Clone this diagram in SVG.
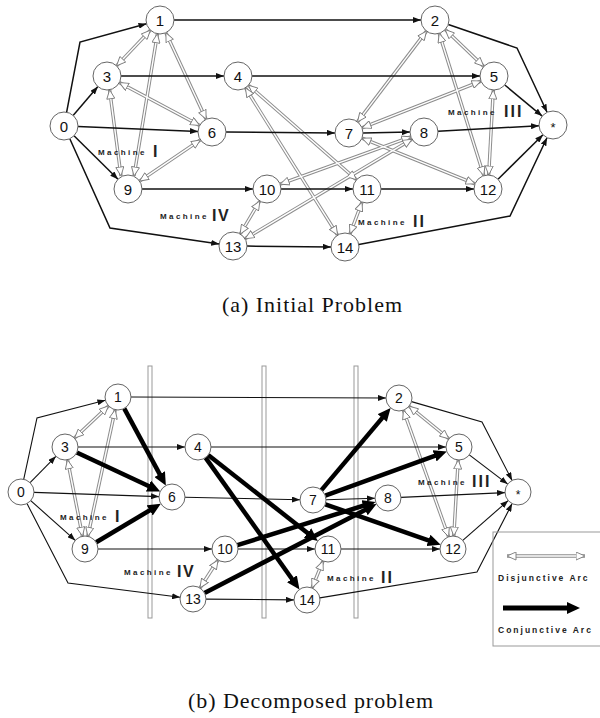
<svg xmlns="http://www.w3.org/2000/svg" xmlns:xlink="http://www.w3.org/1999/xlink" width="600" height="718" viewBox="0 0 600 718">
<style>
.nd circle{fill:#fff;stroke:#666;stroke-width:1}
.nt{font-family:"Liberation Sans",Arial,sans-serif;font-size:15px;text-anchor:middle;fill:#111}
.nb{font-size:14px}
.ca{fill:none;stroke:#111;stroke-width:1.5;marker-end:url(#ah)}
.cb{fill:none;stroke:#111;stroke-width:1.1;marker-end:url(#ah)}
.ck{fill:none;stroke:#000;stroke-width:4.5;marker-end:url(#ahb)}
.djo{fill:none;stroke:#8c8c8c;stroke-width:3.4}
.dji{fill:none;stroke:#fff;stroke-width:1.4;marker-start:url(#dh);marker-end:url(#dh)}
.mc{font-family:"Liberation Sans",Arial,sans-serif;font-weight:bold;font-size:8px;letter-spacing:2.4px;fill:#222}
.mn{font-family:"Liberation Sans",Arial,sans-serif;font-weight:bold;font-size:16px;letter-spacing:1.5px;fill:#222}
.cap{font-family:"Liberation Serif","Times New Roman",serif;font-size:22px;fill:#111}
.bar{fill:none;stroke:#999;stroke-width:1}
.lg{font-family:"Liberation Sans",Arial,sans-serif;font-weight:bold;font-size:8.5px;letter-spacing:2px;fill:#222}
</style>
<defs>
<marker id="ah" markerUnits="userSpaceOnUse" markerWidth="8" markerHeight="6" refX="8" refY="3" orient="auto"><path d="M0,0 L8,3 L0,6 z" fill="#111"/></marker>
<marker id="ahb" markerUnits="userSpaceOnUse" markerWidth="13" markerHeight="12" refX="6" refY="6" orient="auto"><path d="M0,0 L13,6 L0,12 z" fill="#000"/></marker>
<marker id="dh" markerUnits="userSpaceOnUse" markerWidth="11" markerHeight="9" refX="9.5" refY="4.5" orient="auto-start-reverse"><path d="M0.5,0.5 L9.5,4.5 L0.5,8.5 z" fill="#fff" stroke="#7a7a7a" stroke-width="0.9"/></marker>
<g id="djA">
<path d="M150.4 30.2 L116.6 65.8"/>
<path d="M165.9 32.7 L206.1 119.3"/>
<path d="M157.4 33.8 L134 176"/>
<path d="M119.3 82.6 L199.7 125.4"/>
<path d="M109.6 89.8 L121 176"/>
<path d="M200.4 139.9 L139.6 181.1"/>
<path d="M248.5 85.2 L356.5 179.8"/>
<path d="M245.4 87.9 L337.6 235.1"/>
<path d="M362 202.1 L350 233.9"/>
<path d="M445.2 29.6 L483.8 66.4"/>
<path d="M426.5 31.1 L357.5 121.9"/>
<path d="M439.2 33.4 L483.8 175.6"/>
<path d="M481 81.1 L362 127.9"/>
<path d="M493.3 90 L488.7 175"/>
<path d="M362 138.2 L475 183.8"/>
<path d="M410.8 136.8 L280.2 184.2"/>
<path d="M412 139.2 L245 238.8"/>
<path d="M259.8 201 L240.2 234"/>
</g>
<g id="djB">
<path d="M108.5 405.9 L74.5 438.1"/>
<path d="M115.2 409.7 L87.8 536.3"/>
<path d="M67.5 459.8 L82.5 536.2"/>
<path d="M409.1 406.2 L448.9 438.8"/>
<path d="M403.4 410.2 L448.6 536.8"/>
<path d="M458.2 460 L453.8 536"/>
<path d="M323 561 L312 588"/>
<path d="M218 560 L200 588"/>
<path d="M507 556 L585 556"/>
</g>
</defs>
<rect width="600" height="718" fill="#fff"/>

<!-- bars of decomposition -->
<g id="bars">
<rect class="bar" x="148" y="366" width="4" height="252"/>
<rect class="bar" x="262" y="366" width="4" height="252"/>
<rect class="bar" x="354" y="366" width="4" height="252"/>
</g>

<g id="connectors">
<use xlink:href="#djA" class="djo"/>
<use xlink:href="#djA" class="dji"/>
<use xlink:href="#djB" class="djo"/>
<use xlink:href="#djB" class="dji"/>
<g class="ca">
<path d="M66.6 112.3 L80 42 L146.5 23.7"/>
<path d="M69.8 138.8 L110 228 L219.2 244"/>
<path d="M73.1 115.4 L97.9 86.6"/>
<path d="M78 126.6 L198 131.4"/>
<path d="M74 135.8 L118 179.2"/>
<path d="M174 20 L421 20"/>
<path d="M121 76 L224 76"/>
<path d="M252 76 L480 76"/>
<path d="M226 132.1 L335 132.9"/>
<path d="M363 133 L410 132"/>
<path d="M438 131.2 L539 125.8"/>
<path d="M504.8 85 L542.2 116.1"/>
<path d="M448.3 24.5 L517 48 L547.1 112.3"/>
<path d="M498 179.2 L543 134.8"/>
<path d="M358.8 244.4 L510 216 L547 137.7"/>
<path d="M142 189 L253 189"/>
<path d="M281 189 L353 189"/>
<path d="M381 189 L474 189"/>
<path d="M247 246.1 L331 246.9"/>
</g>
<g class="cb">
<path d="M23.7 479.3 L37 418 L105.4 400.3"/>
<path d="M30.1 482.7 L55.9 456.3"/>
<path d="M34 492.4 L159 496.6"/>
<path d="M30.7 500.6 L75.3 540.4"/>
<path d="M27 503.6 L68 583 L180.1 597.3"/>
<path d="M131 397 L386 398"/>
<path d="M78 447 L185 447"/>
<path d="M211 447 L446 447"/>
<path d="M185 497.3 L300 499.7"/>
<path d="M326 499.7 L375 498.3"/>
<path d="M401 497.4 L505 492.6"/>
<path d="M469.3 454.9 L507.7 484.1"/>
<path d="M411.5 401.6 L482 422 L512.1 480.4"/>
<path d="M462.8 540.4 L508.2 500.6"/>
<path d="M319.8 597.9 L477 572 L512.1 503.6"/>
<path d="M98 549 L212 549"/>
<path d="M238 549 L315 549"/>
<path d="M341 549 L440 549"/>
<path d="M206 599.1 L294 599.9"/>
</g>
<g class="ck">
<path d="M124.2 408.4 L162.5 479.4"/>
<path d="M76.8 452.5 L153.9 488.5"/>
<path d="M96.2 542.3 L154.8 507.3"/>
<path d="M208.2 455 L312.3 536.7"/>
<path d="M205.5 457.6 L295.4 583.7"/>
<path d="M321.4 490.1 L386.1 413.4"/>
<path d="M325.2 495.6 L440.2 453.8"/>
<path d="M325.3 504.3 L434.1 542.4"/>
<path d="M237.4 545.1 L368.9 504"/>
<path d="M204.5 593 L370.3 507.2"/>
</g>
</g>

<!-- top nodes -->
<g class="nd">
<g id="a-n0"><circle cx="64" cy="126" r="14"/><text class="nt" x="64" y="131.5">0</text></g>
<g id="a-n1"><circle cx="160" cy="20" r="14"/><text class="nt" x="160" y="25.5">1</text></g>
<g id="a-n2"><circle cx="435" cy="20" r="14"/><text class="nt" x="435" y="25.5">2</text></g>
<g id="a-n3"><circle cx="107" cy="76" r="14"/><text class="nt" x="107" y="81.5">3</text></g>
<g id="a-n4"><circle cx="238" cy="76" r="14"/><text class="nt" x="238" y="81.5">4</text></g>
<g id="a-n5"><circle cx="494" cy="76" r="14"/><text class="nt" x="494" y="81.5">5</text></g>
<g id="a-n6"><circle cx="212" cy="132" r="14"/><text class="nt" x="212" y="137.5">6</text></g>
<g id="a-n7"><circle cx="349" cy="133" r="14"/><text class="nt" x="349" y="138.5">7</text></g>
<g id="a-n8"><circle cx="424" cy="132" r="14"/><text class="nt" x="424" y="137.5">8</text></g>
<g id="a-n9"><circle cx="128" cy="189" r="14"/><text class="nt" x="128" y="194.5">9</text></g>
<g id="a-n10"><circle cx="267" cy="189" r="14"/><text class="nt" x="267" y="194.5">10</text></g>
<g id="a-n11"><circle cx="367" cy="189" r="14"/><text class="nt" x="367" y="194.5">11</text></g>
<g id="a-n12"><circle cx="488" cy="189" r="14"/><text class="nt" x="488" y="194.5">12</text></g>
<g id="a-n13"><circle cx="233" cy="246" r="14"/><text class="nt" x="233" y="251.5">13</text></g>
<g id="a-n14"><circle cx="345" cy="247" r="14"/><text class="nt" x="345" y="252.5">14</text></g>
<g id="a-nend"><circle cx="553" cy="125" r="14"/><text class="nt" x="553" y="132" style="font-size:13px">*</text></g>
</g>

<!-- bottom nodes -->
<g class="nd">
<g id="b-n0"><circle cx="21" cy="492" r="13"/><text class="nt nb" x="21" y="497">0</text></g>
<g id="b-n1"><circle cx="118" cy="397" r="13"/><text class="nt nb" x="118" y="402">1</text></g>
<g id="b-n2"><circle cx="399" cy="398" r="13"/><text class="nt nb" x="399" y="403">2</text></g>
<g id="b-n3"><circle cx="65" cy="447" r="13"/><text class="nt nb" x="65" y="452">3</text></g>
<g id="b-n4"><circle cx="198" cy="447" r="13"/><text class="nt nb" x="198" y="452">4</text></g>
<g id="b-n5"><circle cx="459" cy="447" r="13"/><text class="nt nb" x="459" y="452">5</text></g>
<g id="b-n6"><circle cx="172" cy="497" r="13"/><text class="nt nb" x="172" y="502">6</text></g>
<g id="b-n7"><circle cx="313" cy="500" r="13"/><text class="nt nb" x="313" y="505">7</text></g>
<g id="b-n8"><circle cx="388" cy="498" r="13"/><text class="nt nb" x="388" y="503">8</text></g>
<g id="b-n9"><circle cx="85" cy="549" r="13"/><text class="nt nb" x="85" y="554">9</text></g>
<g id="b-n10"><circle cx="225" cy="549" r="13"/><text class="nt nb" x="225" y="554">10</text></g>
<g id="b-n11"><circle cx="328" cy="549" r="13"/><text class="nt nb" x="328" y="554">11</text></g>
<g id="b-n12"><circle cx="453" cy="549" r="13"/><text class="nt nb" x="453" y="554">12</text></g>
<g id="b-n13"><circle cx="193" cy="599" r="13"/><text class="nt nb" x="193" y="604">13</text></g>
<g id="b-n14"><circle cx="307" cy="600" r="13"/><text class="nt nb" x="307" y="605">14</text></g>
<g id="b-nend"><circle cx="518" cy="492" r="13"/><text class="nt nb" x="518" y="499" style="font-size:12px">*</text></g>
</g>

<!-- machine labels -->
<g id="labels">
<text class="mc" x="98" y="155">Machine</text><text class="mn" x="153" y="157">I</text>
<text class="mc" x="160" y="219">Machine</text><text class="mn" x="212" y="221">IV</text>
<text class="mc" x="448" y="115">Machine</text><text class="mn" x="504" y="117" style="letter-spacing:2px">III</text>
<text class="mc" x="358" y="225">Machine</text><text class="mn" x="413" y="227" style="letter-spacing:2px">II</text>
<text class="mc" x="60" y="520">Machine</text><text class="mn" x="115" y="522">I</text>
<text class="mc" x="124" y="575">Machine</text><text class="mn" x="177" y="577">IV</text>
<text class="mc" x="418" y="485">Machine</text><text class="mn" x="472" y="487" style="letter-spacing:2px">III</text>
<text class="mc" x="327" y="581">Machine</text><text class="mn" x="381" y="583" style="letter-spacing:2px">II</text>
</g>

<!-- legend -->
<g id="legend">
<rect x="493" y="532" width="120" height="114" fill="none" stroke="#999" stroke-width="1"/>
<text class="lg" x="498" y="581">Disjunctive Arc</text>
<path class="ck" d="M503 608 L573 608" style="stroke-width:5"/>
<text class="lg" x="498" y="633">Conjunctive Arc</text>
</g>

<!-- captions -->
<text class="cap" x="222" y="312" textLength="180" lengthAdjust="spacing">(a)  Initial Problem</text>
<text class="cap" x="188" y="708" textLength="245" lengthAdjust="spacing">(b)  Decomposed problem</text>
</svg>
